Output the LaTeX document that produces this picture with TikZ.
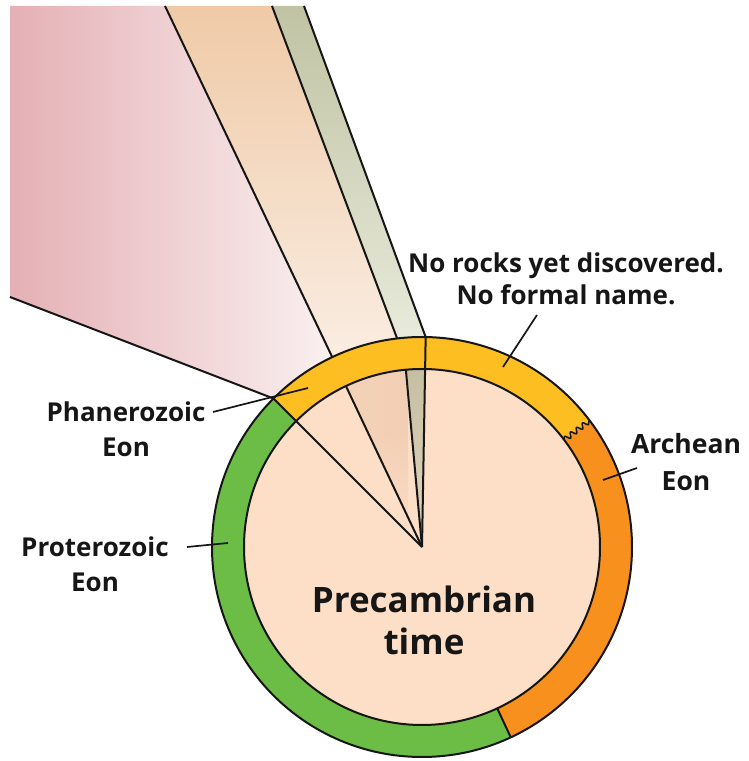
\documentclass[tikz,border=0pt]{standalone}
\usepackage{fontspec}
\setmainfont{Open Sans}
\usetikzlibrary{calc,decorations.pathmorphing,fadings}
\definecolor{peach}{HTML}{FDDEC7}
\definecolor{ringyel}{HTML}{FDBE22}
\definecolor{ringora}{HTML}{F7901D}
\definecolor{ringgrn}{HTML}{6CBD45}
\definecolor{pkA}{HTML}{E4B0B5}
\definecolor{pkB}{HTML}{E8BBBF}
\definecolor{pkC}{HTML}{FAF0F0}
\definecolor{tanA}{HTML}{EFCAA7}
\definecolor{tanB}{HTML}{FAEDE2}
\definecolor{grA}{HTML}{C0C3A3}
\definecolor{grB}{HTML}{E8EADB}
\definecolor{itanA}{HTML}{F4D2B8}
\definecolor{itanB}{HTML}{E3B996}
\definecolor{itanC}{HTML}{F2CFB4}
\definecolor{igrA}{HTML}{C5BFA2}
\definecolor{igrB}{HTML}{E3D5C0}
\definecolor{ink}{HTML}{161616}
\begin{document}
\begin{tikzpicture}[x=1pt,y=1pt,
  edge/.style={draw=ink,line width=2pt,line join=round},
  leader/.style={draw=ink,line width=1.7pt},
  lab/.style={font=\fontsize{26}{35}\selectfont\bfseries,text=ink,align=center,inner sep=0pt,anchor=base},
  big/.style={font=\fontsize{35}{42}\selectfont\bfseries,text=ink,align=center,inner sep=0pt,anchor=base}]
\useasboundingbox (0,0) rectangle (748,761);
\coordinate (C) at (422,214);
\def\R{210}\def\r{178}
% outer fan regions
\coordinate (pTL) at (10,755);
\coordinate (pBL) at (10,464);
\coordinate (aTop) at (165,755);
\coordinate (gLTop) at (272,755);
\coordinate (gRTop) at (304,755);
\coordinate (oP) at ($(C)+(135:\R)$);
\coordinate (oA) at ($(C)+(115.3:\R)$);
\coordinate (oGL) at ($(C)+(96.8:\R)$);
\coordinate (oGR) at ($(C)+(89:\R)$);
\shade[left color=pkA,middle color=pkB,right color=pkC] (pTL) -- (aTop) -- (oA) -- (oP) -- (pBL) -- cycle;
\shade[top color=tanA,bottom color=tanB] (aTop) -- (gLTop) -- (oGL) -- (oA) -- cycle;
\shade[top color=grA,bottom color=grB] (gLTop) -- (gRTop) -- (oGR) -- (oGL) -- cycle;
% disc
\fill[peach] (C) circle[radius=\R];
\begin{scope}
\clip (C) -- ($(C)+(115.3:\r)$) arc[start angle=115.3,end angle=95.2,radius=\r] -- cycle;
\shade[left color=itanA,middle color=itanB,right color=itanC] (344,214) rectangle (408,392);
\fill[peach,path fading=north] (340,214) rectangle (425,330);
\end{scope}
\shade[top color=igrA,bottom color=igrB] (C) -- ($(C)+(95.2:\r)$) arc[start angle=95.2,end angle=89,radius=\r] -- cycle;
% ring
\fill[ringyel] ($(C)+(37:\R)$) arc[start angle=37,end angle=135,radius=\R] -- ($(C)+(135:\r)$) arc[start angle=135,end angle=37,radius=\r] -- cycle;
\fill[ringgrn] ($(C)+(135:\R)$) arc[start angle=135,end angle=295,radius=\R] -- ($(C)+(295:\r)$) arc[start angle=295,end angle=135,radius=\r] -- cycle;
\fill[ringora] ($(C)+(-65:\R)$) arc[start angle=-65,end angle=37,radius=\R] -- ($(C)+(37:\r)$) arc[start angle=37,end angle=-65,radius=\r] -- cycle;
\draw[edge] (C) circle[radius=\R];
\draw[edge] (C) circle[radius=\r];
% radial lines
\draw[edge] ($(C)+(135:\R)$) -- ($(C)+(135:\r)$) -- (C);
\draw[edge] (C) -- ($(C)+(115.3:\r)$);
\draw[edge] (C) -- ($(C)+(95.2:\r)$);
\draw[edge] (C) -- (oGR);
\draw[edge] ($(C)+(-65:\R)$) -- ($(C)+(-65:\r)$);
\draw[edge,line width=1.5pt,decorate,decoration={snake,segment length=7.5pt,amplitude=2.6pt}] ($(C)+(37:\r)$) -- ($(C)+(37:\R)$);
% outer lines
\draw[edge] (oP) -- (pBL);
\draw[edge] (oA) -- (aTop);
\draw[edge] (oGL) -- (gLTop);
\draw[edge] (oGR) -- (gRTop);
% labels (anchor = baseline of last line)
\node[lab,font=\fontsize{26}{32}\selectfont\bfseries] (nr) at (566,456) {No rocks yet discovered.\\No formal name.};
\node[lab] (ph) at (126,304) {Phanerozoic\\Eon};
\node[lab] (pr) at (95,169) {Proterozoic\\Eon};
\node[lab,font=\fontsize{26.5}{37}\selectfont\bfseries] (ar) at (686,270) {Archean\\Eon};
\node[big] (pc) at (424,106) {Precambrian\\time};
% leaders
\coordinate (nrA) at (537,446); \coordinate (nrB) at (503,394);
\coordinate (phA) at (213,349); \coordinate (phB) at (308,373);
\coordinate (prA) at (187,214); \coordinate (prB) at (228,218);
\coordinate (arA) at (637,293); \coordinate (arB) at (603,281);
\draw[leader] (nrA) -- (nrB);
\draw[leader] (phA) -- (phB);
\draw[leader] (prA) -- (prB);
\draw[leader] (arA) -- (arB);
\end{tikzpicture}
\end{document}
